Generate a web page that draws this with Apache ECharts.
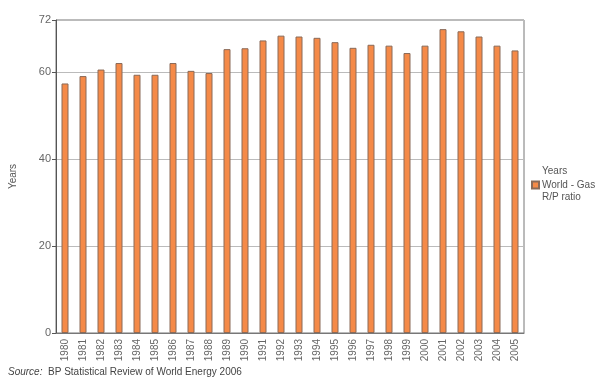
<!DOCTYPE html>
<html><head><meta charset="utf-8">
<script src="https://cdn.jsdelivr.net/npm/echarts@6/dist/echarts.min.js"></script>
<style>html,body{margin:0;padding:0;background:#fff}#c{width:600px;height:382px}</style>
</head><body><div id="c"></div>
<script>
const categories = ['1980','1981','1982','1983','1984','1985','1986','1987','1988','1989','1990','1991','1992','1993','1994','1995','1996','1997','1998','1999','2000','2001','2002','2003','2004','2005'];
const rpRatio = [57.4,59.1,60.6,62.1,59.4,59.4,62.1,60.3,59.8,65.3,65.5,67.3,68.4,68.2,67.9,66.9,65.6,66.3,66.1,64.4,66.1,69.9,69.4,68.2,66.1,65.0];
const yTicks = {min:0, max:72, interval:20};
const seriesName = 'World - Gas';

const chart = echarts.init(document.getElementById('c'), null, {renderer:'canvas'});
const font = 'Arial, "Liberation Sans", sans-serif';
chart.setOption({
  animation:false,
  textStyle:{fontFamily:font},
  grid:{left:53, right:76, top:20, bottom:49, show:true, borderColor:'#777', borderWidth:1},
  title:{
    text:'{i|Source:}  BP Statistical Review of World Energy 2006',
    left:3, top:362,
    textStyle:{fontSize:10, fontWeight:'normal', color:'#444', fontFamily:font,
      rich:{i:{fontStyle:'italic', fontSize:10, color:'#444', fontFamily:font}}}
  },
  legend:{
    left:526, top:175, orient:'vertical',
    itemWidth:7, itemHeight:7, itemGap:4,
    icon:'rect',
    textStyle:{fontSize:10, color:'#555', fontFamily:font, padding:[0,0,0,-2]},
    data:[seriesName]
  },
  graphic:[
    {type:'text', left:542, top:166, style:{text:'Years', fill:'#555', font:'10px '+font}},
    {type:'text', left:542, top:192, style:{text:'R/P ratio', fill:'#555', font:'10px '+font}}
  ],
  xAxis:{
    type:'category', data:categories,
    axisLine:{lineStyle:{color:'#777'}},
    axisTick:{show:false},
    axisLabel:{rotate:90, fontSize:10, color:'#666', margin:6, interval:0}
  },
  yAxis:{
    type:'value', min:yTicks.min, max:yTicks.max, interval:yTicks.interval,
    name:'Years', nameLocation:'middle', nameGap:38, nameRotate:90,
    nameTextStyle:{fontSize:10, color:'#555'},
    axisLine:{show:true, lineStyle:{color:'#555'}},
    axisTick:{show:true, length:4, lineStyle:{color:'#555'}},
    axisLabel:{fontSize:11, color:'#666', margin:5},
    splitLine:{lineStyle:{color:'#bbb'}}
  },
  series:[{
    name:seriesName, type:'bar', data:rpRatio,
    barWidth:7,
    itemStyle:{color:'#f58a48', borderColor:'#8a6a58', borderWidth:1}
  }]
});
</script></body></html>
